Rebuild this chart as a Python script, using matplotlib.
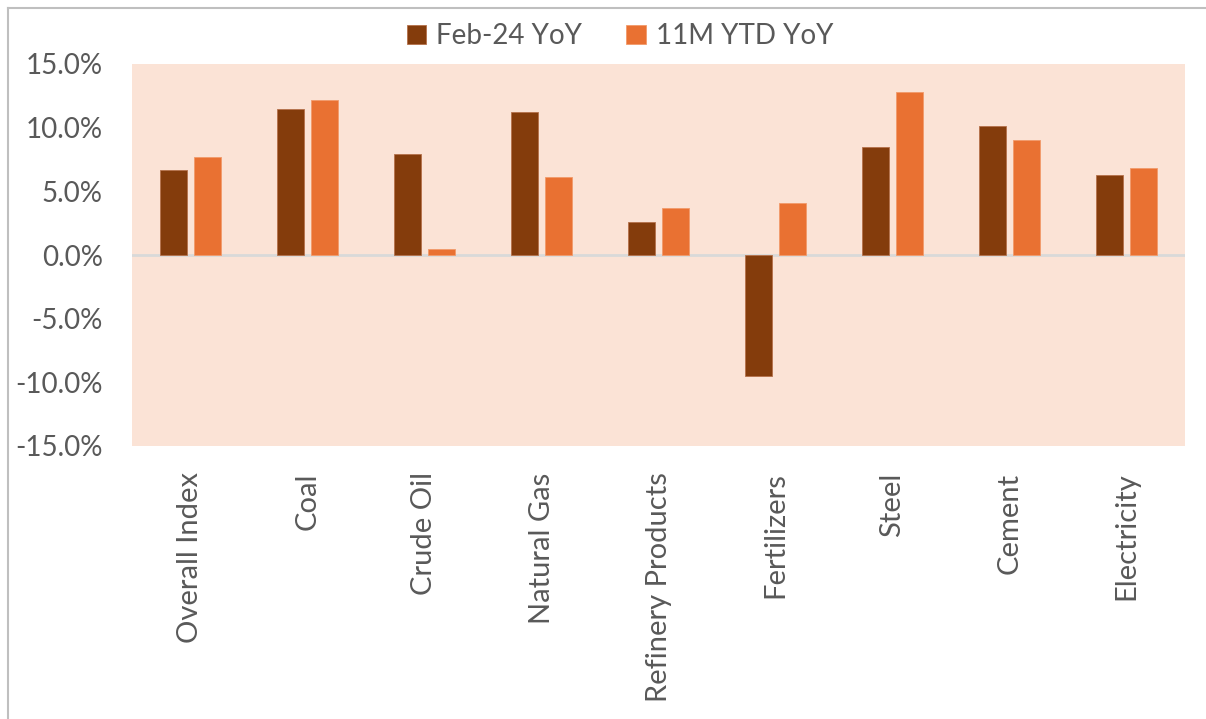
import numpy as np
import matplotlib.pyplot as plt
from matplotlib.lines import Line2D
from matplotlib.ticker import FuncFormatter

# Core sector growth, YoY (%)
categories = ["Overall Index", "Coal", "Crude Oil", "Natural Gas",
              "Refinery Products", "Fertilizers", "Steel", "Cement", "Electricity"]
feb_yoy = [6.7, 11.5, 7.9, 11.2, 2.6, -9.5, 8.5, 10.1, 6.3]
ytd_yoy = [7.7, 12.2, 0.5, 6.1, 3.7, 4.1, 12.8, 9.0, 6.8]
series_names = ["Feb-24 YoY", "11M YTD YoY"]
yticks = [-15, -10, -5, 0, 5, 10, 15]

plt.rcParams['font.family'] = ['Lato', 'DejaVu Sans']
text_col = '#595959'

fig = plt.figure(figsize=(12.06, 7.19), dpi=100)
W, H = 1206, 719
# plot area in pixels: left 132, right 1185, top 64, bottom 446
ax = fig.add_axes([132 / W, 1 - 446 / H, (1185 - 132) / W, (446 - 64) / H])
ax.set_facecolor('#FBE3D6')

x = np.arange(len(categories))
bw = 0.23
off = 0.145
ax.bar(x - off, feb_yoy, bw, color='#843C0C', edgecolor='#B5704A', linewidth=0.6,
       label=series_names[0], zorder=3)
ax.bar(x + off, ytd_yoy, bw, color='#E97132', edgecolor='#F29A6A', linewidth=0.6,
       label=series_names[1], zorder=3)

ax.axhline(0, color='#D9D9D9', linewidth=2, zorder=2)

ax.set_xlim(-0.5, len(categories) - 0.5)
ax.set_ylim(-15, 15)
ax.set_yticks(yticks)
ax.yaxis.set_major_formatter(FuncFormatter(lambda v, p: f"{v:.1f}%"))
ax.set_xticks(x)
ax.set_xticklabels(categories, rotation=90, va='top', ha='center')
ax.tick_params(axis='both', length=0, labelsize=20, colors=text_col)
ax.tick_params(axis='x', labelsize=21, pad=19)
ax.tick_params(axis='y', pad=21)
for s in ax.spines.values():
    s.set_visible(False)

# legend on top
fig.legend(loc='center', bbox_to_anchor=(620 / W, 1 - 36 / H), ncol=2, frameon=False,
           fontsize=20, labelcolor=text_col, handlelength=0.7, handleheight=0.7,
           handletextpad=0.35, columnspacing=1.6)

# chart border (left and top edges visible)
fig.add_artist(Line2D([8 / W, 8 / W], [0, 1 - 8 / H], transform=fig.transFigure,
                      color='#BFBFBF', linewidth=1.5))
fig.add_artist(Line2D([8 / W, 1], [1 - 8 / H, 1 - 8 / H], transform=fig.transFigure,
                      color='#BFBFBF', linewidth=1.5))

fig.savefig('out.png', dpi=100)
